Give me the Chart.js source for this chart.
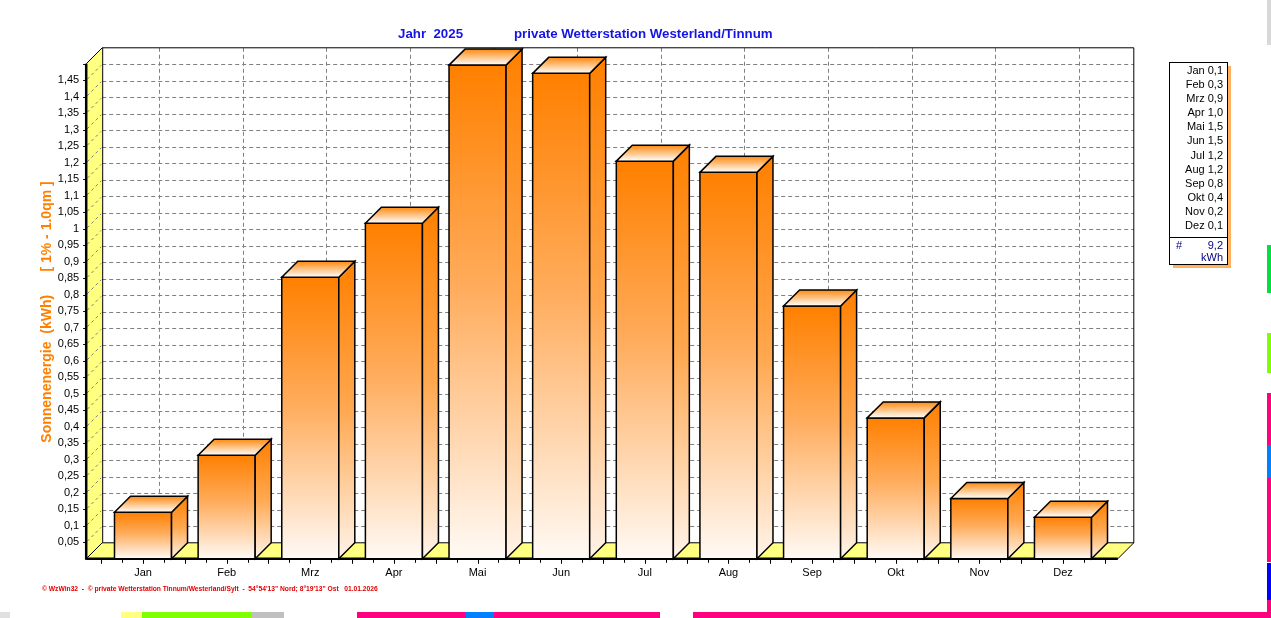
<!DOCTYPE html>
<html lang="de">
<head>
<meta charset="utf-8">
<title>Sonnenenergie 2025</title>
<script src="https://cdn.jsdelivr.net/npm/chart.js@4.4.1/dist/chart.umd.min.js"></script>
<style>
  html, body { margin: 0; padding: 0; background: #fff; overflow: hidden; }
  canvas { display: block; }
</style>
</head>
<body>
<canvas id="chart" width="1271" height="618"></canvas>
<script>
// Monatswerte Sonnenenergie (kWh)
const months = ['Jan', 'Feb', 'Mrz', 'Apr', 'Mai', 'Jun', 'Jul', 'Aug', 'Sep', 'Okt', 'Nov', 'Dez'];
const energy = [0.141, 0.314, 0.853, 1.017, 1.496, 1.471, 1.205, 1.171, 0.766, 0.427, 0.183, 0.126];
const yMax = 1.5;
const yStep = 0.05;

const titleYear = 'Jahr  2025';
const titleStation = 'private Wetterstation Westerland/Tinnum';
const yTitle = 'Sonnenenergie  (kWh)      [ 1% - 1.0qm ]';
const footer = '\u00A9 WzWin32  -  \u00A9 private Wetterstation Tinnum/Westerland/Sylt  -  54\u00B054\'13" Nord; 8\u00B019\'13" Ost   01.01.2026';
const unit = 'kWh';

const DEPTH = 16;
const FONT = '"Liberation Sans", Arial, sans-serif';
const ORANGE = '#ff8000';
const YELLOW = '#ffff80';

// comma as decimal separator, like the original
const fmtTick = v => String(Number(v.toFixed(2))).replace('.', ',');
const fmtOne = v => v.toFixed(1).replace('.', ',');

function poly(ctx, pts) {
    ctx.beginPath();
    ctx.moveTo(pts[0][0], pts[0][1]);
    for (let i = 1; i < pts.length; i++) ctx.lineTo(pts[i][0], pts[i][1]);
    ctx.closePath();
}

function line(ctx, x0, y0, x1, y1) {
    ctx.beginPath();
    ctx.moveTo(x0, y0);
    ctx.lineTo(x1, y1);
    ctx.stroke();
}

// bits of the picture lying underneath (right and bottom edge)
function drawUnderlay(ctx) {
    const right = [
        ['#d8d8d8', 0, 45], ['#00e040', 245, 293], ['#80ff00', 333, 373],
        ['#ff0080', 393, 445], ['#0080ff', 445, 478], ['#ff0080', 478, 562],
        ['#0000ff', 563, 600], ['#ff0080', 600, 618]
    ];
    right.forEach(([c, y0, y1]) => { ctx.fillStyle = c; ctx.fillRect(1267, y0, 4, y1 - y0); });
    const bottom = [
        ['#e0e0e0', 0, 10], [YELLOW, 121, 142], ['#80ff00', 142, 251], ['#c0c0c0', 251, 284],
        ['#ff0080', 357, 660], ['#0080ff', 466, 494], ['#ff0080', 693, 1271]
    ];
    bottom.forEach(([c, x0, x1]) => { ctx.fillStyle = c; ctx.fillRect(x0, 612, x1 - x0, 6); });
}

function drawLegend(ctx) {
    const bx = 1169, by = 62, bw = 58, bh = 202;
    ctx.fillStyle = '#ffb060';
    ctx.fillRect(bx + 4, by + bh, bw, 4);
    ctx.fillRect(bx + bw, by + 4, 4, bh);
    ctx.fillStyle = '#fff';
    ctx.fillRect(bx, by, bw, bh);
    ctx.strokeStyle = '#000';
    ctx.lineWidth = 1;
    ctx.strokeRect(bx + 0.5, by + 0.5, bw, bh);
    line(ctx, bx, 237.5, bx + bw, 237.5);

    ctx.font = '11px ' + FONT;
    ctx.textBaseline = 'middle';
    ctx.fillStyle = '#000';
    ctx.textAlign = 'right';
    months.forEach((m, i) => {
        ctx.fillText(m + ' ' + fmtOne(energy[i]), 1223, 71 + i * 14.09);
    });
    const total = energy.reduce((a, b) => a + b, 0);
    ctx.fillStyle = '#000080';
    ctx.textAlign = 'left';
    ctx.fillText('#', 1176, 246);
    ctx.textAlign = 'right';
    ctx.fillText(fmtOne(total), 1223, 246);
    ctx.fillText(unit, 1223, 258);
}

const scene3d = {
    id: 'scene3d',
    beforeDraw(chart) {
        const ctx = chart.ctx;
        const { left: L, right: R, top: T, bottom: B } = chart.chartArea;
        const d = DEPTH, FL = L - 15, FR = R + 13;
        const xs = chart.scales.x, ys = chart.scales.y;
        ctx.save();
        ctx.fillStyle = '#fff';
        ctx.fillRect(0, 0, chart.width, chart.height);
        drawUnderlay(ctx);

        // back wall grid
        ctx.strokeStyle = '#808080';
        ctx.lineWidth = 1;
        ctx.setLineDash([4, 3]);
        ys.ticks.forEach(t => {
            if (t.value <= 0 || t.value >= yMax - 1e-9) return;
            const y = Math.round(ys.getPixelForValue(t.value)) + 0.5;
            line(ctx, FL + d, y - d, FR + d, y - d);
        });
        months.forEach((m, i) => {
            const x = Math.round(xs.getPixelForValue(i)) + d + 0.5;
            line(ctx, x, T - d, x, B - d);
        });
        ctx.setLineDash([]);

        // left wall
        poly(ctx, [[FL, T], [FL + d, T - d], [FL + d, B - d], [FL, B]]);
        ctx.fillStyle = YELLOW;
        ctx.fill();
        ctx.strokeStyle = '#808080';
        ctx.setLineDash([3, 3]);
        ys.ticks.forEach(t => {
            if (t.value <= 0 || t.value >= yMax - 1e-9) return;
            const y = ys.getPixelForValue(t.value);
            line(ctx, FL + 1, y - 1, FL + d - 1, y - d + 1);
        });
        ctx.setLineDash([]);

        // floor
        poly(ctx, [[FL, B], [FL + d, B - d], [FR + d, B - d], [FR, B]]);
        ctx.fillStyle = YELLOW;
        ctx.fill();
        ctx.strokeStyle = '#000';
        ctx.lineWidth = 1;
        ctx.stroke();

        // frame
        ctx.beginPath();
        ctx.moveTo(FL, T);
        ctx.lineTo(FL + d, T - d);
        ctx.lineTo(FR + d, T - d);
        ctx.lineTo(FR + d, B - d);
        ctx.moveTo(FL + d + 0.5, T - d);
        ctx.lineTo(FL + d + 0.5, B - d);
        ctx.stroke();
        ctx.lineWidth = 2.5;
        line(ctx, FL, T, FL, B + 1);
        line(ctx, FL, B, FR, B);

        // tick marks
        ctx.lineWidth = 1;
        ys.ticks.forEach(t => {
            if (t.value <= 0) return;
            const y = Math.round(ys.getPixelForValue(t.value)) + 0.5;
            line(ctx, FL - 3, y, FL, y);
        });
        for (let k = 0; k <= months.length * 4; k++) {
            const x = Math.round(xs.getPixelForValue(-0.5 + k / 4)) + 0.5;
            line(ctx, x, B + 1, x, B + (k % 2 === 0 ? 5 : 4));
        }

        // titles
        ctx.font = 'bold 13.3px ' + FONT;
        ctx.fillStyle = '#1414e6';
        ctx.textAlign = 'left';
        ctx.textBaseline = 'middle';
        ctx.fillText(titleYear, 398, 34);
        ctx.fillText(titleStation, 514, 34);

        ctx.save();
        ctx.translate(47, 312);
        ctx.rotate(-Math.PI / 2);
        ctx.font = 'bold 14px ' + FONT;
        ctx.fillStyle = ORANGE;
        ctx.textAlign = 'center';
        ctx.fillText(yTitle, 0, 0);
        ctx.restore();

        ctx.font = 'bold 6.7px ' + FONT;
        ctx.fillStyle = '#e00000';
        ctx.fillText(footer, 42, 589);

        drawLegend(ctx);
        ctx.restore();
    },
    afterDatasetsDraw(chart) {
        const ctx = chart.ctx;
        const d = DEPTH;
        ctx.save();
        ctx.strokeStyle = '#000';
        ctx.lineWidth = 1.5;
        ctx.lineJoin = 'miter';
        chart.getDatasetMeta(0).data.forEach(el => {
            const { x, y, base, width } = el.getProps(['x', 'y', 'base', 'width'], true);
            const x0 = x - width / 2, x1 = x + width / 2;

            // front face
            let g = ctx.createLinearGradient(0, y, 0, base);
            g.addColorStop(0, ORANGE);
            g.addColorStop(0.45, '#ffac5c');
            g.addColorStop(1, '#fffaf5');
            ctx.fillStyle = g;
            poly(ctx, [[x0, y], [x1, y], [x1, base], [x0, base]]);
            ctx.fill();
            ctx.stroke();

            // side face
            g = ctx.createLinearGradient(0, y - d, 0, base);
            g.addColorStop(0, ORANGE);
            g.addColorStop(0.5, '#ffa850');
            g.addColorStop(1, '#fff4ea');
            ctx.fillStyle = g;
            poly(ctx, [[x1, y], [x1 + d, y - d], [x1 + d, base - d], [x1, base]]);
            ctx.fill();
            ctx.stroke();

            // top face
            g = ctx.createLinearGradient(0, y - d, 0, y);
            g.addColorStop(0, '#ff8a10');
            g.addColorStop(1, '#ffffff');
            ctx.fillStyle = g;
            poly(ctx, [[x0, y], [x0 + d, y - d], [x1 + d, y - d], [x1, y]]);
            ctx.fill();
            ctx.stroke();
        });
        ctx.restore();
    }
};

new Chart(document.getElementById('chart'), {
    type: 'bar',
    data: {
        labels: months,
        datasets: [{
            label: 'Sonnenenergie',
            data: energy,
            backgroundColor: 'rgba(0,0,0,0)',
            borderWidth: 0,
            barPercentage: 0.682,
            categoryPercentage: 1
        }]
    },
    options: {
        responsive: false,
        devicePixelRatio: 1,
        animation: false,
        layout: { padding: { left: 0, right: 166.2, top: 63.8, bottom: 0 } },
        plugins: {
            legend: { display: false },
            tooltip: { enabled: false }
        },
        scales: {
            x: {
                grid: { display: false, drawTicks: false },
                border: { display: false },
                ticks: {
                    color: '#000',
                    font: { family: FONT, size: 11 },
                    padding: 8,
                    maxRotation: 0,
                    autoSkip: false
                },
                afterFit(scale) { scale.height = 59.2; }
            },
            y: {
                min: 0,
                max: yMax,
                grid: { display: false, drawTicks: false },
                border: { display: false },
                ticks: {
                    stepSize: yStep,
                    autoSkip: false,
                    color: '#000',
                    font: { family: FONT, size: 11 },
                    padding: 22,
                    callback: v => (v <= 0 || v >= yMax - 1e-9) ? '' : fmtTick(v)
                },
                afterFit(scale) { scale.width = 101.2; }
            }
        }
    },
    plugins: [scene3d]
});
</script>
</body>
</html>
